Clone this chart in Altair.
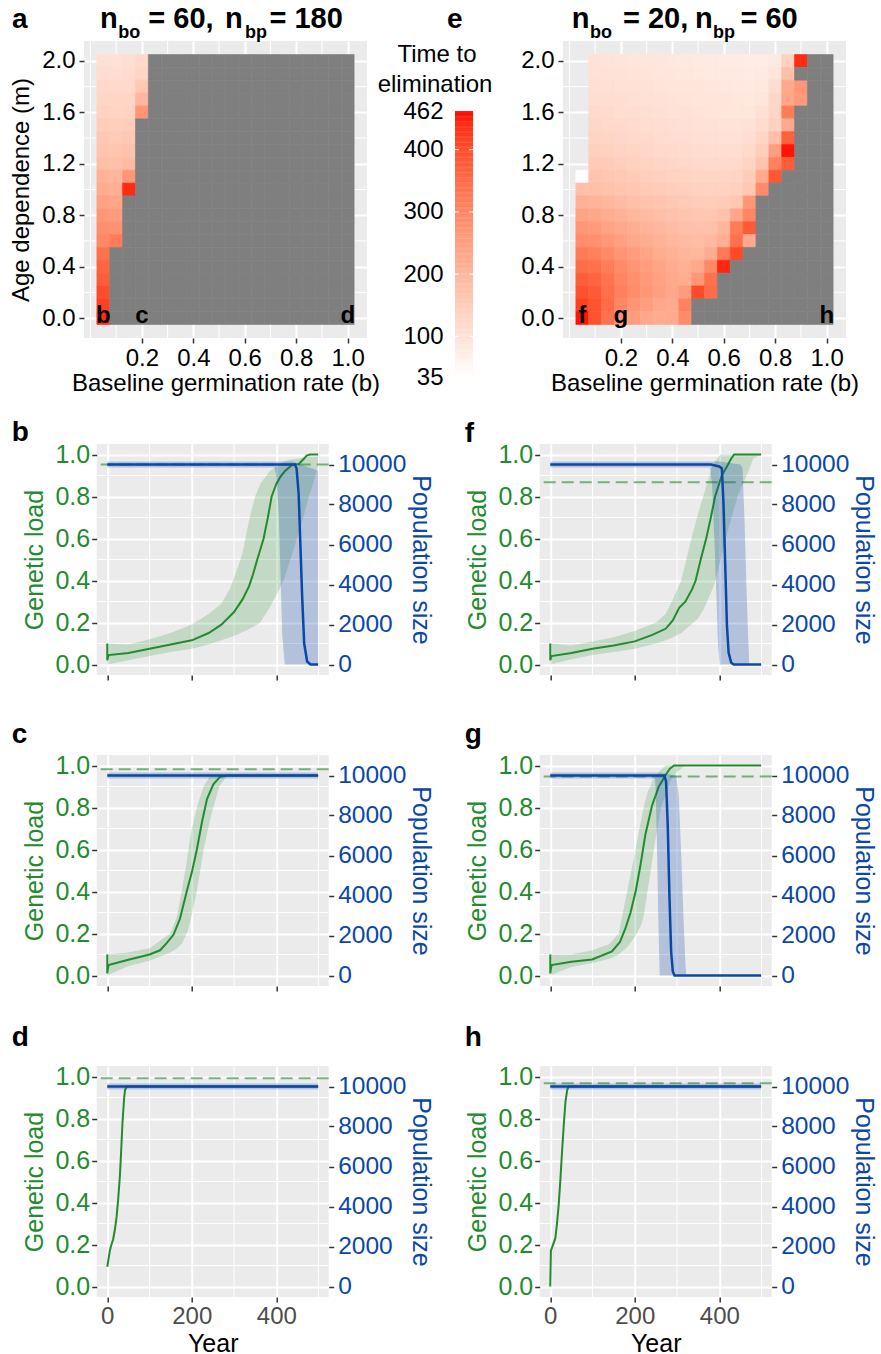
import altair as alt
import numpy as np
import pandas as pd

FONT = "Liberation Sans"
GREEN = "#238B2E"
BLUE = "#0B47A8"
NA_GREY = "#7F7F7F"
PANEL_BG = "#EBEBEB"
TICK = "#333333"

# ---------------------------------------------------------------- heatmap data
B_VALUES = [0.05, 0.10, 0.15, 0.20, 0.25, 0.30, 0.35, 0.40, 0.45, 0.50,
            0.55, 0.60, 0.65, 0.70, 0.75, 0.80, 0.85, 0.90, 0.95, 1.00]
M_VALUES = [2.0, 1.9, 1.8, 1.7, 1.6, 1.5, 1.4, 1.3, 1.2, 1.1, 1.0,
            0.9, 0.8, 0.7, 0.6, 0.5, 0.4, 0.3, 0.2, 0.1, 0.0]
X = -1  # no tile in this cell
# Each row gives time to elimination for b = 0.05, 0.10, ...; the cells after
# the listed ones are populations that were not eliminated (grey).
A_ROWS = [
    [106, 104, 108, 118],
    [112, 110, 114, 130],
    [123, 120, 122, 160],
    [130, 128, 130, 195],
    [137, 133, 135, 265],
    [148, 145, 148],
    [159, 155, 160],
    [169, 165, 172],
    [182, 180, 190],
    [208, 200, 265],
    [220, 215, 440],
    [244, 235],
    [266, 255],
    [285, 275],
    [297, 320],
    [340],
    [362],
    [375],
    [400],
    [418],
    [440],
]
E_ROWS = [
    [X, 100, 98, 96, 95, 93, 91, 89, 87, 85, 83, 81, 80, 78, 78, 82, 140, 440],
    [X, 104, 102, 100, 98, 96, 94, 92, 90, 88, 86, 84, 82, 80, 82, 95, 180],
    [X, 108, 106, 104, 102, 100, 97, 95, 93, 91, 89, 87, 85, 84, 88, 110, 230, 265],
    [X, 113, 111, 108, 106, 104, 101, 99, 97, 95, 93, 91, 89, 88, 95, 125, 235, 260],
    [X, 118, 116, 113, 111, 108, 105, 103, 101, 99, 97, 95, 93, 93, 105, 128, 320],
    [X, 125, 122, 119, 116, 113, 110, 107, 105, 103, 101, 99, 98, 100, 115, 140, 225],
    [X, 133, 130, 126, 122, 118, 115, 112, 110, 108, 106, 104, 104, 110, 130, 180, 370],
    [X, 142, 138, 134, 130, 126, 122, 119, 116, 114, 112, 111, 112, 120, 145, 250, 455],
    [X, 155, 150, 145, 140, 135, 131, 127, 124, 121, 119, 118, 120, 132, 170, 310, 375],
    [35, 168, 163, 157, 151, 146, 141, 137, 133, 130, 128, 128, 132, 150, 225, 385],
    [180, 178, 173, 167, 161, 155, 150, 146, 142, 139, 137, 137, 142, 160, 290],
    [212, 205, 197, 188, 180, 173, 166, 160, 155, 151, 148, 150, 160, 265],
    [240, 232, 220, 208, 198, 189, 181, 174, 168, 163, 162, 172, 232, 300],
    [268, 258, 243, 229, 216, 205, 195, 186, 179, 174, 178, 200, 320, 380],
    [285, 278, 263, 247, 232, 219, 207, 197, 189, 184, 192, 215, 340, 225],
    [322, 310, 292, 270, 252, 236, 222, 211, 201, 198, 220, 325, 405],
    [350, 340, 318, 290, 270, 252, 236, 223, 213, 230, 295, 445],
    [375, 362, 335, 305, 282, 262, 245, 230, 222, 266, 340],
    [395, 380, 345, 312, 288, 266, 248, 232, 255, 405, 350],
    [418, 392, 350, 300, 272, 250, 232, 225, 308],
    [455, 392, 340, 277, 256, 232, 220, 225, 290],
]
A_NBO, A_NBP = 60, 180
E_NBO, E_NBP = 20, 60
A_CORNER_LABELS = ["b", "c", "d"]
E_CORNER_LABELS = ["f", "g", "h"]
CORNER_B = [0.05, 0.2, 1.0]
CORNER_M = [0.0, 0.0, 0.0]
HEAT_B_TICKS = [0.2, 0.4, 0.6, 0.8, 1.0]
HEAT_M_TICKS = [0.0, 0.4, 0.8, 1.2, 1.6, 2.0]
HEAT_MINOR_B = [0.0, 0.1, 0.3, 0.5, 0.7, 0.9]
HEAT_MINOR_M = [0.2, 0.6, 1.0, 1.4, 1.8]
T_MIN, T_MAX = 35, 462
CB_LABELS = [35, 100, 200, 300, 400, 462]
CB_BREAKS = [100, 200, 300, 400]

# ------------------------------------------------------------ time series data
TS_X_TICKS = [0, 200, 400]
TS_MINOR_YEARS = [100, 300, 500]
TS_LOAD_TICKS = [0.0, 0.2, 0.4, 0.6, 0.8, 1.0]
TS_MINOR_LOAD = [0.1, 0.3, 0.5, 0.7, 0.9]
TS_POP_TICKS = [0, 2000, 4000, 6000, 8000, 10000]

# panel b
B_LOAD_YEAR = [0, 0, 3, 50, 100, 150, 200, 240, 270, 300, 320, 335, 345, 355, 370, 380, 389, 400, 410, 420, 437, 453, 463, 472, 480, 499]
B_LOAD = [0.10, 0.02, 0.045, 0.055, 0.075, 0.095, 0.115, 0.15, 0.19, 0.25, 0.31, 0.37, 0.43, 0.50, 0.60, 0.70, 0.80, 0.86, 0.895, 0.92, 0.95, 0.955, 0.975, 0.995, 1.0, 1.0]
B_BAND_YEAR = [0, 50, 100, 150, 200, 240, 270, 290, 305, 320, 337, 350, 362, 384, 408, 417, 430, 449, 465, 477, 490, 499]
B_BAND_HI = [0.10, 0.095, 0.12, 0.15, 0.19, 0.24, 0.29, 0.36, 0.44, 0.53, 0.70, 0.80, 0.86, 0.92, 0.955, 0.965, 0.975, 0.98, 0.985, 0.99, 0.99, 0.99]
B_BAND_LO = [0.0, 0.02, 0.04, 0.06, 0.075, 0.095, 0.115, 0.13, 0.14, 0.155, 0.17, 0.185, 0.20, 0.27, 0.36, 0.40, 0.48, 0.60, 0.71, 0.80, 0.88, 0.95]
B_POP_YEAR = [0, 444, 448, 453, 457, 461, 466, 473, 481, 499]
B_POP = [10000, 10000, 9800, 8500, 6000, 3500, 1050, 150, 0, 0]
B_PBAND_YEAR = [0, 396, 400, 406, 410, 414, 420, 440, 470, 499]
B_PBAND_LO = [9850, 9850, 9400, 7500, 4500, 1500, 0, 0, 0, 0]
B_PBAND_HI = [10150, 10150, 10150, 10150, 10150, 10150, 10150, 10150, 9900, 9700]
B_THRESHOLD = 0.952

# panel f
F_LOAD_YEAR = [0, 0, 3, 50, 100, 150, 200, 240, 273, 290, 305, 320, 336, 344, 356, 369, 380, 390, 406, 420, 428, 435, 499]
F_LOAD = [0.10, 0.02, 0.04, 0.055, 0.075, 0.09, 0.11, 0.14, 0.17, 0.21, 0.27, 0.30, 0.36, 0.40, 0.50, 0.60, 0.70, 0.80, 0.90, 0.95, 0.98, 1.0, 1.0]
F_BAND_YEAR = [0, 50, 100, 150, 200, 250, 273, 290, 310, 334, 350, 362, 384, 391, 403, 415, 443, 471, 480, 499]
F_BAND_HI = [0.10, 0.09, 0.11, 0.13, 0.16, 0.20, 0.24, 0.31, 0.40, 0.60, 0.72, 0.80, 0.95, 0.97, 1.0, 1.0, 1.0, 1.0, 1.0, 1.0]
F_BAND_LO = [0.0, 0.025, 0.045, 0.06, 0.075, 0.10, 0.115, 0.13, 0.15, 0.19, 0.22, 0.26, 0.36, 0.40, 0.50, 0.60, 0.80, 0.93, 0.98, 1.0]
F_POP_YEAR = [0, 380, 400, 406, 410, 414, 418, 422, 428, 434, 499]
F_POP = [10000, 10000, 9900, 9800, 8000, 5000, 2000, 600, 100, 0, 0]
F_PBAND_YEAR = [0, 378, 383, 388, 393, 397, 401, 450, 455, 460, 464, 468, 471, 499]
F_PBAND_LO = [9850, 9850, 9000, 6500, 3500, 1000, 0, 0, 0, 0, 0, 0, 0, 0]
F_PBAND_HI = [10150, 10150, 10150, 10150, 10150, 10150, 10150, 10000, 9800, 7000, 4000, 1500, 0, 0]
F_THRESHOLD = 0.868

# panel c
C_LOAD_YEAR = [0, 0, 3, 50, 100, 125, 141, 157, 172, 188, 200, 212, 224, 236, 251, 267, 285, 499]
C_LOAD = [0.10, 0.01, 0.05, 0.075, 0.10, 0.12, 0.155, 0.195, 0.27, 0.40, 0.49, 0.60, 0.73, 0.84, 0.91, 0.946, 0.952, 0.952]
C_BAND_YEAR = [0, 50, 100, 149, 165, 176, 188, 192, 200, 212, 228, 243, 251, 265, 283, 499]
C_BAND_HI = [0.10, 0.11, 0.13, 0.20, 0.28, 0.40, 0.54, 0.60, 0.70, 0.80, 0.90, 0.95, 0.953, 0.955, 0.955, 0.955]
C_BAND_LO = [0.0, 0.045, 0.07, 0.11, 0.13, 0.15, 0.20, 0.22, 0.29, 0.40, 0.60, 0.74, 0.80, 0.90, 0.95, 0.95]
C_POP_YEAR = [0, 499]
C_POP = [10000, 10000]
C_PBAND_YEAR = [0, 499]
C_PBAND_LO = [9850, 9850]
C_PBAND_HI = [10150, 10150]
C_THRESHOLD = 0.982

# panel g
G_LOAD_YEAR = [0, 0, 3, 50, 99, 146, 165, 178, 190, 202, 213, 225, 241, 257, 273, 283, 293, 499]
G_LOAD = [0.10, 0.01, 0.05, 0.065, 0.076, 0.115, 0.16, 0.226, 0.30, 0.40, 0.52, 0.67, 0.81, 0.90, 0.955, 0.985, 1.0, 1.0]
G_BAND_YEAR = [0, 50, 100, 140, 162, 182, 202, 215, 221, 230, 245, 249, 262, 273, 285, 300, 320, 499]
G_BAND_HI = [0.10, 0.10, 0.12, 0.15, 0.20, 0.40, 0.60, 0.74, 0.80, 0.87, 0.94, 0.95, 0.98, 1.0, 1.0, 1.0, 1.0, 1.0]
G_BAND_LO = [0.0, 0.04, 0.06, 0.08, 0.10, 0.135, 0.19, 0.24, 0.28, 0.40, 0.60, 0.65, 0.80, 0.86, 0.93, 0.97, 1.0, 1.0]
G_POP_YEAR = [0, 270, 274, 278, 282, 286, 290, 294, 499]
G_POP = [10000, 10000, 9700, 7500, 4000, 1200, 200, 0, 0]
G_PBAND_YEAR = [0, 248, 250, 253, 256, 259, 298, 304, 310, 315, 320, 322, 499]
G_PBAND_LO = [9850, 9850, 9000, 6000, 2500, 0, 0, 0, 0, 0, 0, 0, 0]
G_PBAND_HI = [10150, 10150, 10150, 10150, 10150, 10150, 10000, 9000, 6000, 3000, 500, 0, 0]
G_THRESHOLD = 0.948

# panel d
D_LOAD_YEAR = [0, 3, 6, 10, 14, 18, 22, 26, 30, 33, 36, 40, 42, 46, 499]
D_LOAD = [0.094, 0.13, 0.17, 0.20, 0.225, 0.27, 0.33, 0.42, 0.53, 0.65, 0.78, 0.90, 0.935, 0.952, 0.952]
D_BAND_YEAR = [0, 10, 20, 30, 40, 46, 499]
D_BAND_LO = [0.09, 0.19, 0.29, 0.51, 0.88, 0.948, 0.948]
D_BAND_HI = [0.10, 0.21, 0.31, 0.55, 0.92, 0.956, 0.956]
D_POP_YEAR = [0, 499]
D_POP = [10000, 10000]
D_PBAND_YEAR = [0, 499]
D_PBAND_LO = [9850, 9850]
D_PBAND_HI = [10150, 10150]
D_THRESHOLD = 0.992

# panel h
H_LOAD_YEAR = [0, 1.5, 5, 12, 16, 20, 24, 28, 32, 36, 40, 43, 499]
H_LOAD = [0.0, 0.17, 0.19, 0.23, 0.30, 0.39, 0.51, 0.645, 0.77, 0.88, 0.935, 0.952, 0.952]
H_BAND_YEAR = [0, 12, 20, 28, 36, 43, 499]
H_BAND_LO = [0.0, 0.22, 0.37, 0.62, 0.86, 0.948, 0.948]
H_BAND_HI = [0.0, 0.24, 0.41, 0.67, 0.90, 0.956, 0.956]
H_POP_YEAR = [0, 499]
H_POP = [10000, 10000]
H_PBAND_YEAR = [0, 499]
H_PBAND_LO = [9850, 9850]
H_PBAND_HI = [10150, 10150]
H_THRESHOLD = 0.968

# ------------------------------------------------------------------- helpers
ONE = pd.DataFrame({"k": [0]})


def ax(**kw):
    base = dict(domain=False, tickColor=TICK, tickWidth=1.5, labelFont=FONT,
                titleFont=FONT, titleFontWeight="normal", labelFlush=False,
                labelOverlap=False, gridColor="white", gridWidth=2)
    base.update(kw)
    return alt.Axis(**base)


def text_mark(txt, x, y, size, weight="normal", color="black", align="left",
              baseline="alphabetic"):
    return alt.Chart(ONE).mark_text(
        text=txt, font=FONT, fontSize=size, fontWeight=weight, color=color,
        align=align, baseline=baseline).encode(x=alt.value(x), y=alt.value(y))


def anchor(x, y):
    # invisible 1px mark that fixes the layout bounds of a row
    return alt.Chart(ONE).mark_rect(opacity=0).encode(
        x=alt.value(x), x2=alt.value(x + 1), y=alt.value(y),
        y2=alt.value(y + 1))


COLOR_SCALE = alt.Scale(domain=[T_MIN, T_MAX], range=["#FFFFFF", "#FF0000"],
                        interpolate="lab")


def heat_frames(rows):
    vals, nas = [], []
    for m, row in zip(M_VALUES, rows):
        for j, b in enumerate(B_VALUES):
            v = row[j] if j < len(row) else None
            if v == X:
                continue
            if v is None:
                nas.append({"b": b, "m": m})
            else:
                vals.append({"b": b, "m": m, "t": v})
    return pd.DataFrame(vals), pd.DataFrame(nas)


def heatmap(rows, nbo, nbp, corner_labels, letter, letter_x, title_x,
            show_ytitle, anchors):
    vals, nas = heat_frames(rows)
    xs = alt.Scale(domain=[-0.025, 1.075], nice=False, zero=False)
    ys = alt.Scale(domain=[-0.155, 2.155], nice=False, zero=False)
    xaxis = ax(values=HEAT_B_TICKS, format=".1f", labelFontSize=24,
               labelColor="black", tickSize=5, labelPadding=3,
               title="Baseline germination rate (b)", titleFontSize=24,
               titleColor="black", titlePadding=1, grid=True)
    yaxis = ax(values=HEAT_M_TICKS, format=".1f", labelFontSize=24,
               labelColor="black", tickSize=5, labelPadding=4,
               title=("Age dependence (m)" if show_ytitle else None),
               titleFontSize=24, titleColor="black", titlePadding=8, grid=True)
    X_ = lambda f: alt.X(f, scale=xs, axis=xaxis)
    Y_ = lambda f: alt.Y(f, scale=ys, axis=yaxis)
    calc = dict(b1="datum.b - 0.025", b2="datum.b + 0.025",
                m1="datum.m - 0.05", m2="datum.m + 0.05")

    mx = alt.Chart(pd.DataFrame({"v": HEAT_MINOR_B})).mark_rule(
        color="white", strokeWidth=1).encode(x=X_("v:Q"))
    my = alt.Chart(pd.DataFrame({"v": HEAT_MINOR_M})).mark_rule(
        color="white", strokeWidth=1).encode(y=Y_("v:Q"))
    tiles = alt.Chart(vals).transform_calculate(**calc).mark_rect(
        strokeWidth=0.6).encode(
        x=X_("b1:Q"), x2="b2:Q", y=Y_("m1:Q"), y2="m2:Q",
        color=alt.Color("t:Q", scale=COLOR_SCALE, legend=None),
        stroke=alt.Stroke("t:Q", scale=COLOR_SCALE, legend=None))
    grey = alt.Chart(nas).transform_calculate(**calc).mark_rect(
        color=NA_GREY, stroke=NA_GREY, strokeWidth=0.6).encode(
        x=X_("b1:Q"), x2="b2:Q", y=Y_("m1:Q"), y2="m2:Q")
    corners = alt.Chart(pd.DataFrame({"lab": corner_labels, "b": CORNER_B,
                                      "m": CORNER_M})).mark_text(
        font=FONT, fontSize=24, fontWeight="bold", color="black",
        baseline="middle", dy=-2).encode(x=X_("b:Q"), y=Y_("m:Q"),
                                         text="lab:N")
    layers = [mx, my, tiles, grey, corners,
              text_mark(letter, letter_x, -12.7, 28, "bold")]
    pieces = ["n", "bo", f"= {nbo},", "n", "bp", f"= {nbp}"]
    subs = [False, True, False, False, True, False]
    for txt, px, sub in zip(pieces, title_x, subs):
        layers.append(text_mark(txt, px, -3.3 if sub else -12.7,
                                18 if sub else 29, "bold"))
    if anchors:
        layers += [anchor(-84, -41), anchor(0, 359)]
    return alt.layer(*layers).properties(
        width=283, height=297,
        view=alt.ViewBackground(fill=PANEL_BG, strokeWidth=0))


def colorbar():
    lo = np.arange(T_MIN, T_MAX, 2.0)
    cb = pd.DataFrame({"lo": lo, "hi": np.minimum(lo + 2.6, T_MAX),
                       "mid": lo + 1})
    ys = alt.Scale(domain=[35, 574.4], nice=False, zero=False)
    yaxis = ax(values=CB_LABELS, labelFontSize=24, labelColor="black",
               ticks=False, labelPadding=12, grid=False, title=None)
    bar = alt.Chart(cb).mark_rect().encode(
        x=alt.value(0), x2=alt.value(18),
        y=alt.Y("lo:Q", scale=ys, axis=yaxis), y2="hi:Q",
        color=alt.Color("mid:Q", scale=COLOR_SCALE, legend=None))
    br = pd.DataFrame({"v": CB_BREAKS})
    t1 = alt.Chart(br).mark_rule(color="white", strokeWidth=1).encode(
        y=alt.Y("v:Q", scale=ys, axis=yaxis), x=alt.value(0), x2=alt.value(4))
    t2 = alt.Chart(br).mark_rule(color="white", strokeWidth=1).encode(
        y=alt.Y("v:Q", scale=ys, axis=yaxis), x=alt.value(14), x2=alt.value(18))
    return alt.layer(
        bar, t1, t2,
        text_mark("Time to", -18, 20.7, 24, align="center"),
        text_mark("elimination", -20, 50.7, 24, align="center"),
    ).properties(width=20, height=336)


def ts_panel(load_year, load, band_year, band_lo, band_hi, pop_year, pop,
             pband_year, pband_lo, pband_hi, thr, letter, letter_x,
             letter_y, bottom, anchors):
    xs = alt.Scale(domain=[-25, 524], nice=False, zero=False)
    ys = alt.Scale(domain=[-0.05, 1.05], nice=False, zero=False)
    ps = alt.Scale(domain=[-525, 11025], nice=False, zero=False)
    xaxis = ax(values=TS_X_TICKS, labels=bottom, labelFontSize=24,
               labelColor="#4D4D4D", tickSize=5, labelPadding=2,
               title=("Year" if bottom else None), titleFontSize=25,
               titleColor="black", titlePadding=3, grid=True)
    yaxis = ax(values=TS_LOAD_TICKS, format=".1f", labelFontSize=25,
               labelColor=GREEN, tickSize=5, labelPadding=2,
               title="Genetic load", titleFontSize=25, titleColor=GREEN,
               titlePadding=7, grid=True)
    paxis = ax(orient="right", values=TS_POP_TICKS, format="d",
               labelFontSize=24.5, labelColor=BLUE, tickSize=5,
               labelPadding=4, title="Population size", titleFontSize=25,
               titleColor=BLUE, titlePadding=2, grid=False)
    X_ = lambda f: alt.X(f, scale=xs, axis=xaxis)
    Y_ = lambda f: alt.Y(f, scale=ys, axis=yaxis)
    P_ = lambda f: alt.Y(f, scale=ps, axis=paxis)

    mx = alt.Chart(pd.DataFrame({"year": TS_MINOR_YEARS})).mark_rule(
        color="white", strokeWidth=1).encode(x=X_("year:Q"))
    my = alt.Chart(pd.DataFrame({"load": TS_MINOR_LOAD})).mark_rule(
        color="white", strokeWidth=1).encode(y=Y_("load:Q"))
    band = alt.Chart(pd.DataFrame({"year": band_year, "lo": band_lo,
                                   "hi": band_hi})).mark_area(
        color=GREEN, opacity=0.2).encode(x=X_("year:Q"), y=Y_("lo:Q"),
                                         y2="hi:Q")
    line = alt.Chart(pd.DataFrame({"year": load_year, "load": load,
                                   "i": list(range(len(load)))})).mark_line(
        color=GREEN, strokeWidth=2).encode(x=X_("year:Q"), y=Y_("load:Q"),
                                           order="i:Q")
    dashed = alt.Chart(pd.DataFrame({"load": [thr]})).mark_rule(
        color=GREEN, strokeWidth=2, strokeDash=[12, 6], opacity=0.6).encode(
        y=Y_("load:Q"))
    lab = text_mark(letter, letter_x, letter_y, 28, "bold")
    load_layers = [mx, my, band, line, dashed, lab]
    if anchors:
        load_layers += [anchor(-96.7, -42.5), anchor(0, 266.5)]
    load_group = alt.layer(*load_layers)

    pband = alt.Chart(pd.DataFrame({"year": pband_year, "lo": pband_lo,
                                    "hi": pband_hi})).mark_area(
        color=BLUE, opacity=0.25).encode(x=X_("year:Q"), y=P_("lo:Q"),
                                         y2="hi:Q")
    pline = alt.Chart(pd.DataFrame({"year": pop_year, "pop": pop})).mark_line(
        color=BLUE, strokeWidth=2.5).encode(x=X_("year:Q"), y=P_("pop:Q"))
    pop_group = alt.layer(pband, pline)
    return alt.layer(load_group, pop_group).resolve_scale(
        y="independent").properties(
        width=232, height=231,
        view=alt.ViewBackground(fill=PANEL_BG, strokeWidth=0))


heat_a = heatmap(A_ROWS, A_NBO, A_NBP, A_CORNER_LABELS, "a", -72,
                 [16, 34.3, 64.3, 141, 161, 185.5], True, True)
heat_e = heatmap(E_ROWS, E_NBO, E_NBP, E_CORNER_LABELS, "e", -116,
                 [8.7, 27, 60, 132, 150, 177.5], False, False)

ts_b = ts_panel(B_LOAD_YEAR, B_LOAD, B_BAND_YEAR, B_BAND_LO, B_BAND_HI,
                B_POP_YEAR, B_POP, B_PBAND_YEAR, B_PBAND_LO, B_PBAND_HI,
                B_THRESHOLD, "b", -85, -3.5, False, True)
ts_f = ts_panel(F_LOAD_YEAR, F_LOAD, F_BAND_YEAR, F_BAND_LO, F_BAND_HI,
                F_POP_YEAR, F_POP, F_PBAND_YEAR, F_PBAND_LO, F_PBAND_HI,
                F_THRESHOLD, "f", -75, -2, False, False)
ts_c = ts_panel(C_LOAD_YEAR, C_LOAD, C_BAND_YEAR, C_BAND_LO, C_BAND_HI,
                C_POP_YEAR, C_POP, C_PBAND_YEAR, C_PBAND_LO, C_PBAND_HI,
                C_THRESHOLD, "c", -85, -11.6, False, True)
ts_g = ts_panel(G_LOAD_YEAR, G_LOAD, G_BAND_YEAR, G_BAND_LO, G_BAND_HI,
                G_POP_YEAR, G_POP, G_PBAND_YEAR, G_PBAND_LO, G_PBAND_HI,
                G_THRESHOLD, "g", -75, -11.6, False, False)
ts_d = ts_panel(D_LOAD_YEAR, D_LOAD, D_BAND_YEAR, D_BAND_LO, D_BAND_HI,
                D_POP_YEAR, D_POP, D_PBAND_YEAR, D_PBAND_LO, D_PBAND_HI,
                D_THRESHOLD, "d", -85, -20, True, True)
ts_h = ts_panel(H_LOAD_YEAR, H_LOAD, H_BAND_YEAR, H_BAND_LO, H_BAND_HI,
                H_POP_YEAR, H_POP, H_PBAND_YEAR, H_PBAND_LO, H_PBAND_HI,
                H_THRESHOLD, "h", -75, -20, True, False)


def spacer():
    return alt.Chart(ONE).mark_point(opacity=0).encode(
        x=alt.value(0), y=alt.value(0)).properties(width=1, height=1)


def ts_row(left, right):
    # the time-series panels sit 12.7 px right of the heatmap column
    return alt.hconcat(
        spacer(), alt.hconcat(left, right, spacing=211, bounds="flush"),
        spacing=11.7, bounds="flush")


row1 = alt.hconcat(heat_a, colorbar(), heat_e, spacing=88, bounds="flush")

chart = alt.vconcat(row1, ts_row(ts_b, ts_f), ts_row(ts_c, ts_g),
                    ts_row(ts_d, ts_h), spacing=0).properties(
    padding=0, background="white").configure(font=FONT).configure_view(
    strokeWidth=0)

chart.save("out.html", embed_options={"renderer": "svg", "actions": False})
